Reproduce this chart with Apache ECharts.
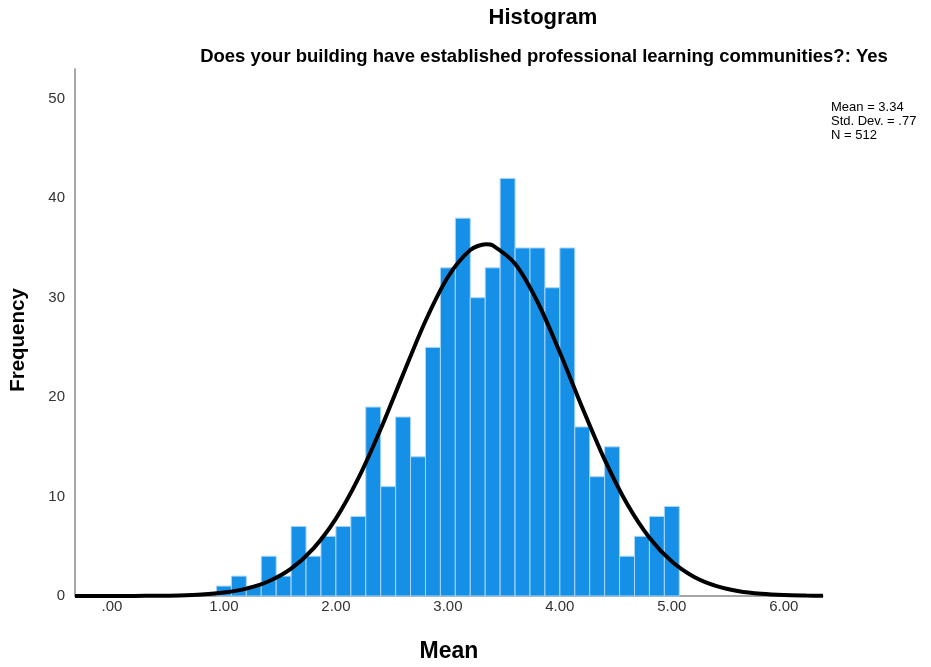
<!DOCTYPE html>
<html>
<head>
<meta charset="utf-8">
<script src="https://cdn.jsdelivr.net/npm/echarts@6/dist/echarts.min.js"></script>
<style>
html,body{margin:0;padding:0;background:#fff;}
#chart{width:931px;height:667px;}
</style>
</head>
<body>
<div id="chart"></div>
<script>
// Histogram bins (centers) and counts
var binCenters = [1.0000, 1.1333, 1.2667, 1.4000, 1.5333, 1.6667, 1.8000, 1.9333, 2.0667, 2.2000,
  2.3333, 2.4667, 2.6000, 2.7333, 2.8667, 3.0000, 3.1333, 3.2667, 3.4000, 3.5333,
  3.6667, 3.8000, 3.9333, 4.0667, 4.2000, 4.3333, 4.4667, 4.6000, 4.7333, 4.8667, 5.0000];
var binWidth = 0.1333;
var counts = [1, 2, 1, 4, 2, 7, 4, 6, 7, 8, 19, 11, 18, 14, 25, 33, 38, 30, 33, 42,
  35, 35, 31, 35, 17, 12, 15, 4, 6, 8, 9];

// Normal curve
var curveX = [-0.33, 0.0, 0.2, 0.4, 0.6, 0.8, 1.0, 1.2, 1.4, 1.6, 1.8, 2.0, 2.2, 2.4, 2.6, 2.8, 3.0, 3.2, 3.34,
  3.4, 3.6, 3.8, 4.0, 4.2, 4.4, 4.6, 4.8, 5.0, 5.2, 5.4, 5.6, 5.8, 6.0, 6.2, 6.35];
var curveY = [0.0, 0.0, 0.01, 0.02, 0.06, 0.15, 0.35, 0.74, 1.48, 2.75, 4.79, 7.78, 11.82, 16.79, 22.29, 27.66, 32.08, 34.79, 35.37,
  35.26, 33.41, 29.59, 24.49, 18.96, 13.71, 9.27, 5.86, 3.46, 1.91, 0.99, 0.48, 0.22, 0.09, 0.04, 0.02];

var xTicks = [0, 1, 2, 3, 4, 5, 6];
var xTickLabels = ['.00', '1.00', '2.00', '3.00', '4.00', '5.00', '6.00'];
var yTicks = [0, 10, 20, 30, 40, 50];

var titleText = 'Histogram';
var subtitleText = 'Does your building have established professional learning communities?: Yes';
var statsText = 'Mean = 3.34\nStd. Dev. = .77\nN = 512';
var xName = 'Mean';
var yName = 'Frequency';

var chart = echarts.init(document.getElementById('chart'), null, {renderer: 'canvas'});

var barData = binCenters.map(function (c, i) { return [c, counts[i]]; });
var lineData = curveX.map(function (x, i) { return [x, curveY[i]]; });

var FONT = '"Liberation Sans", Arial, sans-serif';

chart.setOption({
  animation: false,
  backgroundColor: '#ffffff',
  title: [
    {text: titleText, left: 538, top: 2, textAlign: 'center',
     textStyle: {fontFamily: FONT, fontSize: 22, fontWeight: 'bold', color: '#000'}},
    {text: subtitleText, left: 539, top: 42, textAlign: 'center',
     textStyle: {fontFamily: FONT, fontSize: 18.5, fontWeight: 'bold', color: '#000'}},
    {text: statsText, left: 826, top: 95,
     textStyle: {fontFamily: FONT, fontSize: 13, fontWeight: 'normal', color: '#000', lineHeight: 14}}
  ],
  graphic: [
    {type: 'text', x: 18, y: 340, rotation: Math.PI / 2,
     style: {text: yName, font: 'bold 20.5px "Liberation Sans", Arial, sans-serif', fill: '#000',
       textAlign: 'center', textVerticalAlign: 'middle'}}
  ],
  grid: {left: 75, right: 108, top: 69, bottom: 71, containLabel: false, outerBoundsMode: 'none'},
  xAxis: {
    type: 'value', min: -0.33, max: 6.35,
    name: xName, nameLocation: 'middle', nameGap: 44,
    nameTextStyle: {fontFamily: FONT, fontSize: 23, fontWeight: 'bold', color: '#000'},
    axisLine: {show: true, onZero: false, lineStyle: {color: '#888', width: 1.5}},
    axisTick: {show: false},
    splitLine: {show: false},
    axisLabel: {
      customValues: xTicks,
      fontFamily: FONT, fontSize: 15, color: '#333', margin: 3,
      formatter: function (v) {
        var i = xTicks.indexOf(Math.round(v));
        return i >= 0 ? xTickLabels[i] : '';
      }
    }
  },
  yAxis: {
    type: 'value', min: 0, max: 53,
    axisLine: {show: true, onZero: false, lineStyle: {color: '#888', width: 1.5}},
    axisTick: {show: false},
    splitLine: {show: false},
    axisLabel: {
      customValues: yTicks,
      fontFamily: FONT, fontSize: 15, color: '#333', margin: 10
    }
  },
  series: [
    {
      type: 'custom',
      data: barData,
      encode: {x: 0, y: 1},
      renderItem: function (params, api) {
        var c = api.value(0), v = api.value(1);
        var p0 = api.coord([c - binWidth / 2, v]);
        var p1 = api.coord([c + binWidth / 2, 0]);
        return {
          type: 'rect',
          shape: {x: p0[0], y: p0[1], width: p1[0] - p0[0], height: p1[1] - p0[1]},
          style: {fill: '#1590e6', stroke: '#a9d5f7', lineWidth: 1}
        };
      },
      z: 2
    },
    {
      type: 'line',
      data: lineData,
      smooth: 0.3,
      showSymbol: false,
      symbol: 'none',
      clip: true,
      lineStyle: {color: '#000', width: 4},
      z: 3
    }
  ]
});
</script>
</body>
</html>
